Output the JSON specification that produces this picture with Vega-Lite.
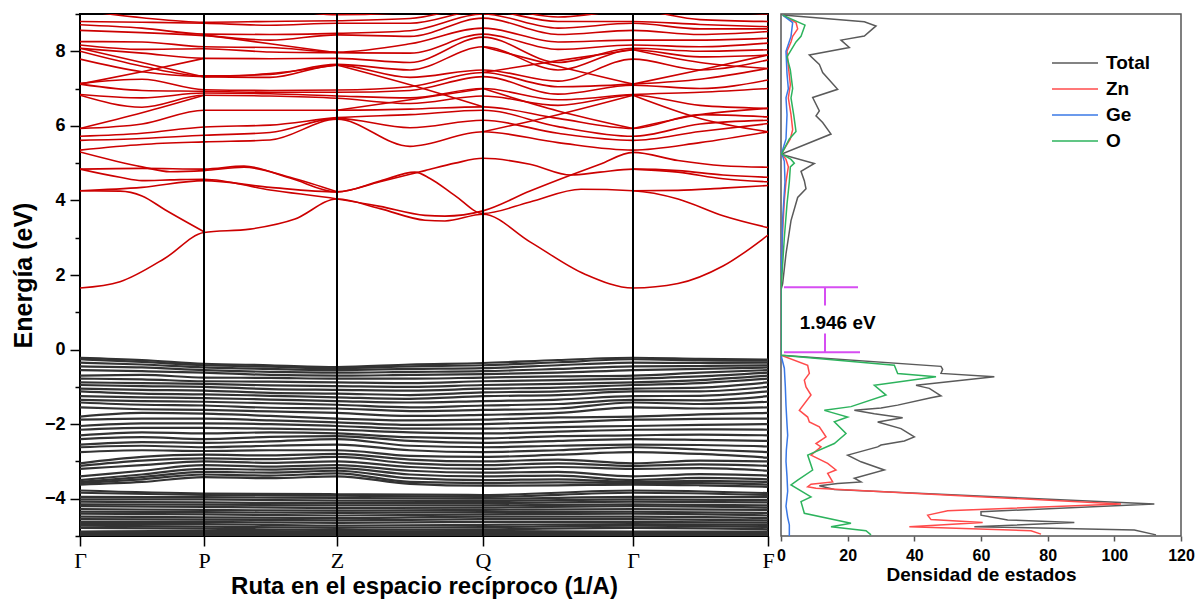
{
"$schema":"https://vega.github.io/schema/vega-lite/v6.json",
"padding":{"left":10,"top":12,"right":5,"bottom":5},
"bounds":"flush",
"spacing":13,
"background":"white",
"config":{"font":"Liberation Sans","view":{"stroke":null},
"axis":{"labelFont":"Liberation Sans","titleFont":"Liberation Sans","labelColor":"#000","titleColor":"#000","tickColor":"#000","grid":false,"domain":false,"labelFontWeight":"bold","titleFontWeight":"bold"}},
"datasets":{
"cb":[
{"b":"u1","k":0,"e":5.35},{"b":"u1","k":62,"e":5.5},{"b":"u1","k":124,"e":5.57},{"b":"u1","k":190,"e":5.62},{"b":"u1","k":257,"e":6.18},{"b":"u1","k":330,"e":5.45},{"b":"u1","k":403,"e":5.84},{"b":"u1","k":478,"e":5.55},{"b":"u1","k":553,"e":5.35},{"b":"u1","k":620,"e":5.55},{"b":"u1","k":688,"e":5.84},
{"b":"u2","k":0,"e":5.61},{"b":"u2","k":62,"e":5.66},{"b":"u2","k":124,"e":5.75},{"b":"u2","k":190,"e":5.82},{"b":"u2","k":257,"e":6.2},{"b":"u2","k":330,"e":5.95},{"b":"u2","k":403,"e":6.15},{"b":"u2","k":478,"e":5.8},{"b":"u2","k":553,"e":5.61},{"b":"u2","k":620,"e":5.85},{"b":"u2","k":688,"e":6.06},
{"b":"u3","k":0,"e":5.72},{"b":"u3","k":62,"e":5.8},{"b":"u3","k":124,"e":5.97},{"b":"u3","k":190,"e":6.02},{"b":"u3","k":257,"e":6.22},{"b":"u3","k":330,"e":6.3},{"b":"u3","k":403,"e":6.42},{"b":"u3","k":478,"e":5.98},{"b":"u3","k":553,"e":5.72},{"b":"u3","k":620,"e":6.05},{"b":"u3","k":688,"e":6.15},
{"b":"u4","k":0,"e":5.93},{"b":"u4","k":62,"e":6.05},{"b":"u4","k":124,"e":6.42},{"b":"u4","k":190,"e":6.42},{"b":"u4","k":257,"e":6.42},{"b":"u4","k":330,"e":6.45},{"b":"u4","k":403,"e":6.51},{"b":"u4","k":478,"e":6.2},{"b":"u4","k":553,"e":5.93},{"b":"u4","k":620,"e":6.3},{"b":"u4","k":688,"e":6.24},
{"b":"u5","k":0,"e":6.82},{"b":"u5","k":62,"e":6.5},{"b":"u5","k":124,"e":6.82},{"b":"u5","k":190,"e":6.8},{"b":"u5","k":257,"e":6.74},{"b":"u5","k":330,"e":6.6},{"b":"u5","k":403,"e":6.8},{"b":"u5","k":478,"e":6.55},{"b":"u5","k":553,"e":6.82},{"b":"u5","k":620,"e":6.55},{"b":"u5","k":688,"e":6.47},
{"b":"u6","k":0,"e":6.84},{"b":"u6","k":62,"e":6.75},{"b":"u6","k":124,"e":6.88},{"b":"u6","k":190,"e":6.86},{"b":"u6","k":257,"e":6.8},{"b":"u6","k":330,"e":6.75},{"b":"u6","k":403,"e":7.0},{"b":"u6","k":478,"e":6.7},{"b":"u6","k":553,"e":6.84},{"b":"u6","k":620,"e":6.9},{"b":"u6","k":688,"e":7.0},
{"b":"u7","k":0,"e":7.12},{"b":"u7","k":62,"e":6.95},{"b":"u7","k":124,"e":6.93},{"b":"u7","k":190,"e":6.9},{"b":"u7","k":257,"e":6.9},{"b":"u7","k":330,"e":6.95},{"b":"u7","k":403,"e":7.32},{"b":"u7","k":478,"e":6.85},{"b":"u7","k":553,"e":7.09},{"b":"u7","k":620,"e":7.0},{"b":"u7","k":688,"e":7.23},
{"b":"u8","k":0,"e":7.14},{"b":"u8","k":62,"e":7.25},{"b":"u8","k":124,"e":6.97},{"b":"u8","k":190,"e":6.95},{"b":"u8","k":257,"e":6.96},{"b":"u8","k":330,"e":7.05},{"b":"u8","k":403,"e":7.43},{"b":"u8","k":478,"e":7.05},{"b":"u8","k":553,"e":7.12},{"b":"u8","k":620,"e":7.25},{"b":"u8","k":688,"e":7.54},
{"b":"u9","k":0,"e":7.79},{"b":"u9","k":62,"e":7.45},{"b":"u9","k":124,"e":7.32},{"b":"u9","k":190,"e":7.3},{"b":"u9","k":257,"e":7.63},{"b":"u9","k":330,"e":7.3},{"b":"u9","k":403,"e":7.5},{"b":"u9","k":478,"e":7.2},{"b":"u9","k":553,"e":7.79},{"b":"u9","k":620,"e":7.5},{"b":"u9","k":688,"e":7.77},
{"b":"u10","k":0,"e":8.0},{"b":"u10","k":62,"e":7.6},{"b":"u10","k":124,"e":7.34},{"b":"u10","k":190,"e":7.38},{"b":"u10","k":257,"e":7.65},{"b":"u10","k":330,"e":7.5},{"b":"u10","k":403,"e":8.12},{"b":"u10","k":478,"e":7.5},{"b":"u10","k":553,"e":8.04},{"b":"u10","k":620,"e":7.85},{"b":"u10","k":688,"e":7.9},
{"b":"u11","k":0,"e":8.08},{"b":"u11","k":62,"e":7.95},{"b":"u11","k":124,"e":7.81},{"b":"u11","k":190,"e":7.8},{"b":"u11","k":257,"e":7.81},{"b":"u11","k":330,"e":7.7},{"b":"u11","k":403,"e":8.38},{"b":"u11","k":478,"e":7.7},{"b":"u11","k":553,"e":8.08},{"b":"u11","k":620,"e":8.0},{"b":"u11","k":688,"e":8.04},
{"b":"u12","k":0,"e":8.17},{"b":"u12","k":62,"e":8.05},{"b":"u12","k":124,"e":8.07},{"b":"u12","k":190,"e":7.98},{"b":"u12","k":257,"e":7.96},{"b":"u12","k":330,"e":7.95},{"b":"u12","k":403,"e":8.46},{"b":"u12","k":478,"e":8.05},{"b":"u12","k":553,"e":8.17},{"b":"u12","k":620,"e":8.12},{"b":"u12","k":688,"e":8.22},
{"b":"u13","k":0,"e":8.26},{"b":"u13","k":62,"e":8.25},{"b":"u13","k":124,"e":8.12},{"b":"u13","k":190,"e":8.1},{"b":"u13","k":257,"e":7.98},{"b":"u13","k":330,"e":8.2},{"b":"u13","k":403,"e":8.62},{"b":"u13","k":478,"e":8.25},{"b":"u13","k":553,"e":8.3},{"b":"u13","k":620,"e":8.3},{"b":"u13","k":688,"e":8.35},
{"b":"u14","k":0,"e":8.56},{"b":"u14","k":62,"e":8.5},{"b":"u14","k":124,"e":8.42},{"b":"u14","k":190,"e":8.3},{"b":"u14","k":257,"e":8.44},{"b":"u14","k":330,"e":8.4},{"b":"u14","k":403,"e":8.89},{"b":"u14","k":478,"e":8.45},{"b":"u14","k":553,"e":8.56},{"b":"u14","k":620,"e":8.45},{"b":"u14","k":688,"e":8.53},
{"b":"u15","k":0,"e":8.71},{"b":"u15","k":62,"e":8.62},{"b":"u15","k":124,"e":8.46},{"b":"u15","k":190,"e":8.45},{"b":"u15","k":257,"e":8.48},{"b":"u15","k":330,"e":8.55},{"b":"u15","k":403,"e":9.0},{"b":"u15","k":478,"e":8.62},{"b":"u15","k":553,"e":8.75},{"b":"u15","k":620,"e":8.6},{"b":"u15","k":688,"e":8.6},
{"b":"u16","k":0,"e":8.8},{"b":"u16","k":62,"e":8.78},{"b":"u16","k":124,"e":8.75},{"b":"u16","k":190,"e":8.7},{"b":"u16","k":257,"e":8.75},{"b":"u16","k":330,"e":8.75},{"b":"u16","k":403,"e":9.1},{"b":"u16","k":478,"e":8.8},{"b":"u16","k":553,"e":8.8},{"b":"u16","k":620,"e":8.72},{"b":"u16","k":688,"e":8.66},
{"b":"u17","k":0,"e":9.1},{"b":"u17","k":62,"e":8.9},{"b":"u17","k":124,"e":8.78},{"b":"u17","k":190,"e":8.8},{"b":"u17","k":257,"e":8.82},{"b":"u17","k":330,"e":8.88},{"b":"u17","k":403,"e":9.2},{"b":"u17","k":478,"e":8.92},{"b":"u17","k":553,"e":9.1},{"b":"u17","k":620,"e":8.85},{"b":"u17","k":688,"e":8.8},
{"b":"u18","k":0,"e":9.3},{"b":"u18","k":62,"e":9.2},{"b":"u18","k":124,"e":9.2},{"b":"u18","k":190,"e":9.15},{"b":"u18","k":257,"e":8.98},{"b":"u18","k":330,"e":9.05},{"b":"u18","k":403,"e":9.3},{"b":"u18","k":478,"e":9.2},{"b":"u18","k":553,"e":9.3},{"b":"u18","k":620,"e":9.1},{"b":"u18","k":688,"e":9.0},
{"b":"x1","k":0,"e":8.08},{"b":"x1","k":62,"e":7.7},{"b":"x1","k":124,"e":7.31},
{"b":"x2","k":0,"e":7.12},{"b":"x2","k":62,"e":7.45},{"b":"x2","k":124,"e":7.81},
{"b":"x3","k":0,"e":5.93},{"b":"x3","k":62,"e":6.35},{"b":"x3","k":124,"e":6.82},
{"b":"x4","k":124,"e":8.44},{"b":"x4","k":190,"e":8.2},{"b":"x4","k":257,"e":7.96},
{"b":"x5","k":124,"e":7.31},{"b":"x5","k":190,"e":7.4},{"b":"x5","k":257,"e":7.63},
{"b":"x6","k":257,"e":6.42},{"b":"x6","k":330,"e":6.7},{"b":"x6","k":403,"e":7.0},
{"b":"x7","k":257,"e":7.63},{"b":"x7","k":330,"e":7.1},{"b":"x7","k":403,"e":6.51},
{"b":"x8","k":403,"e":5.84},{"b":"x8","k":478,"e":6.3},{"b":"x8","k":553,"e":6.82},
{"b":"x9","k":403,"e":7.0},{"b":"x9","k":478,"e":6.4},{"b":"x9","k":553,"e":5.93},
{"b":"x10","k":553,"e":6.82},{"b":"x10","k":620,"e":6.2},{"b":"x10","k":688,"e":5.84},
{"b":"x11","k":553,"e":5.93},{"b":"x11","k":620,"e":6.3},{"b":"x11","k":688,"e":6.47},
{"b":"x12","k":553,"e":8.04},{"b":"x12","k":620,"e":7.7},{"b":"x12","k":688,"e":7.54},
{"b":"x13","k":553,"e":7.12},{"b":"x13","k":620,"e":7.5},{"b":"x13","k":688,"e":7.9},
{"b":"x14","k":403,"e":8.12},{"b":"x14","k":478,"e":7.6},{"b":"x14","k":553,"e":7.12},
{"b":"x15","k":403,"e":7.43},{"b":"x15","k":478,"e":7.75},{"b":"x15","k":553,"e":8.04},
{"b":"L1","k":0,"e":1.65},{"b":"L1","k":40,"e":1.82},{"b":"L1","k":85,"e":2.45},{"b":"L1","k":124,"e":3.14},{"b":"L1","k":170,"e":3.23},{"b":"L1","k":215,"e":3.5},{"b":"L1","k":257,"e":4.04},{"b":"L1","k":300,"e":3.78},{"b":"L1","k":345,"e":3.47},{"b":"L1","k":365,"e":3.45},{"b":"L1","k":403,"e":3.63},{"b":"L1","k":450,"e":2.89},{"b":"L1","k":505,"e":2.02},{"b":"L1","k":553,"e":1.65},{"b":"L1","k":598,"e":1.77},{"b":"L1","k":643,"e":2.24},{"b":"L1","k":688,"e":3.07},
{"b":"L2","k":0,"e":4.26},{"b":"L2","k":40,"e":4.25},{"b":"L2","k":62,"e":4.12},{"b":"L2","k":85,"e":3.75},{"b":"L2","k":124,"e":3.16},
{"b":"L3","k":0,"e":4.26},{"b":"L3","k":62,"e":4.35},{"b":"L3","k":124,"e":4.53},{"b":"L3","k":190,"e":4.35},{"b":"L3","k":257,"e":4.23},{"b":"L3","k":300,"e":4.52},{"b":"L3","k":335,"e":4.76},{"b":"L3","k":350,"e":4.59},{"b":"L3","k":375,"e":4.13},{"b":"L3","k":403,"e":3.65},{"b":"L3","k":450,"e":3.96},{"b":"L3","k":501,"e":4.3},{"b":"L3","k":553,"e":4.26},{"b":"L3","k":598,"e":4.04},{"b":"L3","k":643,"e":3.59},{"b":"L3","k":688,"e":3.27},
{"b":"L4","k":0,"e":4.84},{"b":"L4","k":40,"e":4.62},{"b":"L4","k":62,"e":4.53},{"b":"L4","k":90,"e":4.55},{"b":"L4","k":124,"e":4.57},{"b":"L4","k":190,"e":4.28},{"b":"L4","k":257,"e":4.04},{"b":"L4","k":300,"e":3.84},{"b":"L4","k":345,"e":3.6},{"b":"L4","k":365,"e":3.58},{"b":"L4","k":403,"e":3.72},{"b":"L4","k":450,"e":4.25},{"b":"L4","k":491,"e":4.68},{"b":"L4","k":520,"e":4.97},{"b":"L4","k":553,"e":5.29},{"b":"L4","k":598,"e":5.07},{"b":"L4","k":643,"e":4.93},{"b":"L4","k":688,"e":4.89},
{"b":"L5","k":0,"e":4.84},{"b":"L5","k":62,"e":4.86},{"b":"L5","k":124,"e":4.84},{"b":"L5","k":164,"e":4.92},{"b":"L5","k":210,"e":4.6},{"b":"L5","k":257,"e":4.23},{"b":"L5","k":300,"e":4.5},{"b":"L5","k":345,"e":4.8},{"b":"L5","k":375,"e":5.0},{"b":"L5","k":403,"e":5.13},{"b":"L5","k":450,"e":4.97},{"b":"L5","k":491,"e":4.68},{"b":"L5","k":520,"e":4.76},{"b":"L5","k":553,"e":4.84},{"b":"L5","k":598,"e":4.8},{"b":"L5","k":643,"e":4.68},{"b":"L5","k":688,"e":4.62},
{"b":"L6","k":0,"e":5.3},{"b":"L6","k":62,"e":4.9},{"b":"L6","k":90,"e":4.77},{"b":"L6","k":124,"e":4.8},{"b":"L6","k":164,"e":4.89},{"b":"L6","k":210,"e":4.62},{"b":"L6","k":257,"e":4.23},
{"b":"L7","k":553,"e":4.26},{"b":"L7","k":598,"e":4.27},{"b":"L7","k":643,"e":4.33},{"b":"L7","k":688,"e":4.4},
{"b":"L8","k":553,"e":4.84},{"b":"L8","k":598,"e":4.76},{"b":"L8","k":643,"e":4.58},{"b":"L8","k":688,"e":4.5}
],
"vb":[
{"b":"v1","k":0,"e":-0.22},{"b":"v1","k":62,"e":-0.28},{"b":"v1","k":124,"e":-0.38},{"b":"v1","k":190,"e":-0.42},{"b":"v1","k":257,"e":-0.47},{"b":"v1","k":330,"e":-0.4},{"b":"v1","k":403,"e":-0.36},{"b":"v1","k":478,"e":-0.28},{"b":"v1","k":553,"e":-0.22},{"b":"v1","k":620,"e":-0.25},{"b":"v1","k":688,"e":-0.27},
{"b":"v2","k":0,"e":-0.26},{"b":"v2","k":62,"e":-0.33},{"b":"v2","k":124,"e":-0.42},{"b":"v2","k":190,"e":-0.46},{"b":"v2","k":257,"e":-0.5},{"b":"v2","k":330,"e":-0.45},{"b":"v2","k":403,"e":-0.42},{"b":"v2","k":478,"e":-0.34},{"b":"v2","k":553,"e":-0.26},{"b":"v2","k":620,"e":-0.29},{"b":"v2","k":688,"e":-0.3},
{"b":"v3","k":0,"e":-0.35},{"b":"v3","k":62,"e":-0.4},{"b":"v3","k":124,"e":-0.48},{"b":"v3","k":190,"e":-0.52},{"b":"v3","k":257,"e":-0.55},{"b":"v3","k":330,"e":-0.52},{"b":"v3","k":403,"e":-0.5},{"b":"v3","k":478,"e":-0.42},{"b":"v3","k":553,"e":-0.35},{"b":"v3","k":620,"e":-0.36},{"b":"v3","k":688,"e":-0.35},
{"b":"v4","k":0,"e":-0.45},{"b":"v4","k":62,"e":-0.48},{"b":"v4","k":124,"e":-0.55},{"b":"v4","k":190,"e":-0.6},{"b":"v4","k":257,"e":-0.62},{"b":"v4","k":330,"e":-0.6},{"b":"v4","k":403,"e":-0.58},{"b":"v4","k":478,"e":-0.52},{"b":"v4","k":553,"e":-0.45},{"b":"v4","k":620,"e":-0.44},{"b":"v4","k":688,"e":-0.42},
{"b":"v5","k":0,"e":-0.55},{"b":"v5","k":62,"e":-0.58},{"b":"v5","k":124,"e":-0.62},{"b":"v5","k":190,"e":-0.68},{"b":"v5","k":257,"e":-0.7},{"b":"v5","k":330,"e":-0.68},{"b":"v5","k":403,"e":-0.66},{"b":"v5","k":478,"e":-0.62},{"b":"v5","k":553,"e":-0.55},{"b":"v5","k":620,"e":-0.52},{"b":"v5","k":688,"e":-0.48},
{"b":"v6","k":0,"e":-0.7},{"b":"v6","k":62,"e":-0.68},{"b":"v6","k":124,"e":-0.75},{"b":"v6","k":190,"e":-0.76},{"b":"v6","k":257,"e":-0.78},{"b":"v6","k":330,"e":-0.78},{"b":"v6","k":403,"e":-0.75},{"b":"v6","k":478,"e":-0.72},{"b":"v6","k":553,"e":-0.7},{"b":"v6","k":620,"e":-0.62},{"b":"v6","k":688,"e":-0.55},
{"b":"v7","k":0,"e":-0.78},{"b":"v7","k":62,"e":-0.8},{"b":"v7","k":124,"e":-0.85},{"b":"v7","k":190,"e":-0.86},{"b":"v7","k":257,"e":-0.88},{"b":"v7","k":330,"e":-0.9},{"b":"v7","k":403,"e":-0.85},{"b":"v7","k":478,"e":-0.82},{"b":"v7","k":553,"e":-0.78},{"b":"v7","k":620,"e":-0.72},{"b":"v7","k":688,"e":-0.62},
{"b":"v8","k":0,"e":-0.88},{"b":"v8","k":62,"e":-0.9},{"b":"v8","k":124,"e":-0.92},{"b":"v8","k":190,"e":-0.96},{"b":"v8","k":257,"e":-0.98},{"b":"v8","k":330,"e":-1.0},{"b":"v8","k":403,"e":-0.95},{"b":"v8","k":478,"e":-0.92},{"b":"v8","k":553,"e":-0.88},{"b":"v8","k":620,"e":-0.82},{"b":"v8","k":688,"e":-0.7},
{"b":"v9","k":0,"e":-0.95},{"b":"v9","k":62,"e":-0.98},{"b":"v9","k":124,"e":-1.0},{"b":"v9","k":190,"e":-1.06},{"b":"v9","k":257,"e":-1.08},{"b":"v9","k":330,"e":-1.1},{"b":"v9","k":403,"e":-1.05},{"b":"v9","k":478,"e":-1.02},{"b":"v9","k":553,"e":-0.95},{"b":"v9","k":620,"e":-0.9},{"b":"v9","k":688,"e":-0.78},
{"b":"v10","k":0,"e":-1.05},{"b":"v10","k":62,"e":-1.08},{"b":"v10","k":124,"e":-1.1},{"b":"v10","k":190,"e":-1.16},{"b":"v10","k":257,"e":-1.18},{"b":"v10","k":330,"e":-1.22},{"b":"v10","k":403,"e":-1.15},{"b":"v10","k":478,"e":-1.12},{"b":"v10","k":553,"e":-1.05},{"b":"v10","k":620,"e":-1.02},{"b":"v10","k":688,"e":-0.88},
{"b":"v11","k":0,"e":-1.12},{"b":"v11","k":62,"e":-1.18},{"b":"v11","k":124,"e":-1.2},{"b":"v11","k":190,"e":-1.24},{"b":"v11","k":257,"e":-1.28},{"b":"v11","k":330,"e":-1.32},{"b":"v11","k":403,"e":-1.25},{"b":"v11","k":478,"e":-1.22},{"b":"v11","k":553,"e":-1.12},{"b":"v11","k":620,"e":-1.12},{"b":"v11","k":688,"e":-1.0},
{"b":"v12","k":0,"e":-1.25},{"b":"v12","k":62,"e":-1.28},{"b":"v12","k":124,"e":-1.3},{"b":"v12","k":190,"e":-1.34},{"b":"v12","k":257,"e":-1.38},{"b":"v12","k":330,"e":-1.42},{"b":"v12","k":403,"e":-1.38},{"b":"v12","k":478,"e":-1.34},{"b":"v12","k":553,"e":-1.25},{"b":"v12","k":620,"e":-1.24},{"b":"v12","k":688,"e":-1.12},
{"b":"v13","k":0,"e":-1.35},{"b":"v13","k":62,"e":-1.38},{"b":"v13","k":124,"e":-1.4},{"b":"v13","k":190,"e":-1.44},{"b":"v13","k":257,"e":-1.48},{"b":"v13","k":330,"e":-1.55},{"b":"v13","k":403,"e":-1.5},{"b":"v13","k":478,"e":-1.46},{"b":"v13","k":553,"e":-1.35},{"b":"v13","k":620,"e":-1.36},{"b":"v13","k":688,"e":-1.25},
{"b":"v14","k":0,"e":-1.42},{"b":"v14","k":62,"e":-1.48},{"b":"v14","k":124,"e":-1.5},{"b":"v14","k":190,"e":-1.56},{"b":"v14","k":257,"e":-1.58},{"b":"v14","k":330,"e":-1.65},{"b":"v14","k":403,"e":-1.62},{"b":"v14","k":478,"e":-1.58},{"b":"v14","k":553,"e":-1.42},{"b":"v14","k":620,"e":-1.46},{"b":"v14","k":688,"e":-1.4},
{"b":"v15","k":0,"e":-1.55},{"b":"v15","k":62,"e":-1.6},{"b":"v15","k":124,"e":-1.62},{"b":"v15","k":190,"e":-1.66},{"b":"v15","k":257,"e":-1.7},{"b":"v15","k":330,"e":-1.78},{"b":"v15","k":403,"e":-1.75},{"b":"v15","k":478,"e":-1.7},{"b":"v15","k":553,"e":-1.55},{"b":"v15","k":620,"e":-1.58},{"b":"v15","k":688,"e":-1.55},
{"b":"v16","k":0,"e":-1.8},{"b":"v16","k":62,"e":-1.7},{"b":"v16","k":124,"e":-1.72},{"b":"v16","k":190,"e":-1.78},{"b":"v16","k":257,"e":-1.85},{"b":"v16","k":330,"e":-1.9},{"b":"v16","k":403,"e":-1.88},{"b":"v16","k":478,"e":-1.82},{"b":"v16","k":553,"e":-1.8},{"b":"v16","k":620,"e":-1.74},{"b":"v16","k":688,"e":-1.7},
{"b":"v17","k":0,"e":-1.88},{"b":"v17","k":62,"e":-1.85},{"b":"v17","k":124,"e":-1.85},{"b":"v17","k":190,"e":-1.9},{"b":"v17","k":257,"e":-1.95},{"b":"v17","k":330,"e":-2.02},{"b":"v17","k":403,"e":-2.0},{"b":"v17","k":478,"e":-1.95},{"b":"v17","k":553,"e":-1.88},{"b":"v17","k":620,"e":-1.86},{"b":"v17","k":688,"e":-1.85},
{"b":"v18","k":0,"e":-2.05},{"b":"v18","k":62,"e":-1.98},{"b":"v18","k":124,"e":-1.98},{"b":"v18","k":190,"e":-2.0},{"b":"v18","k":257,"e":-2.05},{"b":"v18","k":330,"e":-2.12},{"b":"v18","k":403,"e":-2.12},{"b":"v18","k":478,"e":-2.08},{"b":"v18","k":553,"e":-2.05},{"b":"v18","k":620,"e":-2.02},{"b":"v18","k":688,"e":-2.0},
{"b":"v19","k":0,"e":-2.15},{"b":"v19","k":62,"e":-2.1},{"b":"v19","k":124,"e":-2.1},{"b":"v19","k":190,"e":-2.12},{"b":"v19","k":257,"e":-2.15},{"b":"v19","k":330,"e":-2.22},{"b":"v19","k":403,"e":-2.25},{"b":"v19","k":478,"e":-2.2},{"b":"v19","k":553,"e":-2.15},{"b":"v19","k":620,"e":-2.14},{"b":"v19","k":688,"e":-2.15},
{"b":"v20","k":0,"e":-2.3},{"b":"v20","k":62,"e":-2.22},{"b":"v20","k":124,"e":-2.25},{"b":"v20","k":190,"e":-2.22},{"b":"v20","k":257,"e":-2.25},{"b":"v20","k":330,"e":-2.35},{"b":"v20","k":403,"e":-2.38},{"b":"v20","k":478,"e":-2.32},{"b":"v20","k":553,"e":-2.3},{"b":"v20","k":620,"e":-2.28},{"b":"v20","k":688,"e":-2.3},
{"b":"v21","k":0,"e":-2.4},{"b":"v21","k":62,"e":-2.35},{"b":"v21","k":124,"e":-2.4},{"b":"v21","k":190,"e":-2.34},{"b":"v21","k":257,"e":-2.32},{"b":"v21","k":330,"e":-2.45},{"b":"v21","k":403,"e":-2.5},{"b":"v21","k":478,"e":-2.45},{"b":"v21","k":553,"e":-2.4},{"b":"v21","k":620,"e":-2.42},{"b":"v21","k":688,"e":-2.45},
{"b":"v22","k":0,"e":-2.55},{"b":"v22","k":62,"e":-2.48},{"b":"v22","k":124,"e":-2.5},{"b":"v22","k":190,"e":-2.46},{"b":"v22","k":257,"e":-2.4},{"b":"v22","k":330,"e":-2.58},{"b":"v22","k":403,"e":-2.62},{"b":"v22","k":478,"e":-2.58},{"b":"v22","k":553,"e":-2.55},{"b":"v22","k":620,"e":-2.56},{"b":"v22","k":688,"e":-2.6},
{"b":"v23","k":0,"e":-2.62},{"b":"v23","k":62,"e":-2.58},{"b":"v23","k":124,"e":-2.62},{"b":"v23","k":190,"e":-2.58},{"b":"v23","k":257,"e":-2.55},{"b":"v23","k":330,"e":-2.7},{"b":"v23","k":403,"e":-2.75},{"b":"v23","k":478,"e":-2.7},{"b":"v23","k":553,"e":-2.62},{"b":"v23","k":620,"e":-2.68},{"b":"v23","k":688,"e":-2.75},
{"b":"v24","k":0,"e":-2.75},{"b":"v24","k":62,"e":-2.7},{"b":"v24","k":124,"e":-2.72},{"b":"v24","k":190,"e":-2.7},{"b":"v24","k":257,"e":-2.7},{"b":"v24","k":330,"e":-2.85},{"b":"v24","k":403,"e":-2.88},{"b":"v24","k":478,"e":-2.82},{"b":"v24","k":553,"e":-2.75},{"b":"v24","k":620,"e":-2.8},{"b":"v24","k":688,"e":-2.9},
{"b":"v25","k":0,"e":-3.05},{"b":"v25","k":62,"e":-2.88},{"b":"v25","k":124,"e":-2.82},{"b":"v25","k":190,"e":-2.84},{"b":"v25","k":257,"e":-2.8},{"b":"v25","k":330,"e":-2.95},{"b":"v25","k":403,"e":-3.0},{"b":"v25","k":478,"e":-2.95},{"b":"v25","k":553,"e":-3.05},{"b":"v25","k":620,"e":-2.98},{"b":"v25","k":688,"e":-3.0},
{"b":"v26","k":0,"e":-3.12},{"b":"v26","k":62,"e":-2.98},{"b":"v26","k":124,"e":-2.92},{"b":"v26","k":190,"e":-2.94},{"b":"v26","k":257,"e":-2.88},{"b":"v26","k":330,"e":-3.05},{"b":"v26","k":403,"e":-3.1},{"b":"v26","k":478,"e":-3.05},{"b":"v26","k":553,"e":-3.12},{"b":"v26","k":620,"e":-3.08},{"b":"v26","k":688,"e":-3.12},
{"b":"v27","k":0,"e":-3.2},{"b":"v27","k":62,"e":-3.1},{"b":"v27","k":124,"e":-3.0},{"b":"v27","k":190,"e":-3.04},{"b":"v27","k":257,"e":-3.0},{"b":"v27","k":330,"e":-3.15},{"b":"v27","k":403,"e":-3.2},{"b":"v27","k":478,"e":-3.15},{"b":"v27","k":553,"e":-3.2},{"b":"v27","k":620,"e":-3.18},{"b":"v27","k":688,"e":-3.25},
{"b":"v28","k":0,"e":-3.4},{"b":"v28","k":62,"e":-3.25},{"b":"v28","k":124,"e":-3.1},{"b":"v28","k":190,"e":-3.14},{"b":"v28","k":257,"e":-3.1},{"b":"v28","k":330,"e":-3.25},{"b":"v28","k":403,"e":-3.3},{"b":"v28","k":478,"e":-3.28},{"b":"v28","k":553,"e":-3.4},{"b":"v28","k":620,"e":-3.34},{"b":"v28","k":688,"e":-3.38},
{"b":"v29","k":0,"e":-3.5},{"b":"v29","k":62,"e":-3.35},{"b":"v29","k":124,"e":-3.2},{"b":"v29","k":190,"e":-3.22},{"b":"v29","k":257,"e":-3.18},{"b":"v29","k":330,"e":-3.35},{"b":"v29","k":403,"e":-3.4},{"b":"v29","k":478,"e":-3.38},{"b":"v29","k":553,"e":-3.5},{"b":"v29","k":620,"e":-3.44},{"b":"v29","k":688,"e":-3.48},
{"b":"v30","k":0,"e":-3.55},{"b":"v30","k":62,"e":-3.42},{"b":"v30","k":124,"e":-3.28},{"b":"v30","k":190,"e":-3.3},{"b":"v30","k":257,"e":-3.25},{"b":"v30","k":330,"e":-3.45},{"b":"v30","k":403,"e":-3.5},{"b":"v30","k":478,"e":-3.48},{"b":"v30","k":553,"e":-3.55},{"b":"v30","k":620,"e":-3.52},{"b":"v30","k":688,"e":-3.55},
{"b":"v31","k":0,"e":-3.58},{"b":"v31","k":62,"e":-3.48},{"b":"v31","k":124,"e":-3.35},{"b":"v31","k":190,"e":-3.38},{"b":"v31","k":257,"e":-3.32},{"b":"v31","k":330,"e":-3.55},{"b":"v31","k":403,"e":-3.58},{"b":"v31","k":478,"e":-3.56},{"b":"v31","k":553,"e":-3.58},{"b":"v31","k":620,"e":-3.58},{"b":"v31","k":688,"e":-3.62},
{"b":"v32","k":0,"e":-3.62},{"b":"v32","k":62,"e":-3.55},{"b":"v32","k":124,"e":-3.42},{"b":"v32","k":190,"e":-3.45},{"b":"v32","k":257,"e":-3.4},{"b":"v32","k":330,"e":-3.6},{"b":"v32","k":403,"e":-3.65},{"b":"v32","k":478,"e":-3.64},{"b":"v32","k":553,"e":-3.62},{"b":"v32","k":620,"e":-3.64},{"b":"v32","k":688,"e":-3.68},
{"b":"w1","k":0,"e":-3.78},{"b":"w1","k":124,"e":-3.86},{"b":"w1","k":257,"e":-3.88},{"b":"w1","k":403,"e":-3.9},{"b":"w1","k":553,"e":-3.78},{"b":"w1","k":688,"e":-3.85},
{"b":"w2","k":0,"e":-3.84},{"b":"w2","k":124,"e":-3.9},{"b":"w2","k":257,"e":-3.92},{"b":"w2","k":403,"e":-3.95},{"b":"w2","k":553,"e":-3.84},{"b":"w2","k":688,"e":-3.9},
{"b":"w3","k":0,"e":-3.95},{"b":"w3","k":124,"e":-3.96},{"b":"w3","k":257,"e":-3.98},{"b":"w3","k":403,"e":-4.0},{"b":"w3","k":553,"e":-3.95},{"b":"w3","k":688,"e":-3.96},
{"b":"w4","k":0,"e":-4.02},{"b":"w4","k":124,"e":-4.02},{"b":"w4","k":257,"e":-4.05},{"b":"w4","k":403,"e":-4.06},{"b":"w4","k":553,"e":-4.02},{"b":"w4","k":688,"e":-4.04},
{"b":"w5","k":0,"e":-4.08},{"b":"w5","k":124,"e":-4.1},{"b":"w5","k":257,"e":-4.12},{"b":"w5","k":403,"e":-4.12},{"b":"w5","k":553,"e":-4.08},{"b":"w5","k":688,"e":-4.1},
{"b":"w6","k":0,"e":-4.15},{"b":"w6","k":124,"e":-4.16},{"b":"w6","k":257,"e":-4.18},{"b":"w6","k":403,"e":-4.18},{"b":"w6","k":553,"e":-4.15},{"b":"w6","k":688,"e":-4.18},
{"b":"w7","k":0,"e":-4.2},{"b":"w7","k":124,"e":-4.22},{"b":"w7","k":257,"e":-4.25},{"b":"w7","k":403,"e":-4.24},{"b":"w7","k":553,"e":-4.2},{"b":"w7","k":688,"e":-4.24},
{"b":"w8","k":0,"e":-4.28},{"b":"w8","k":124,"e":-4.3},{"b":"w8","k":257,"e":-4.32},{"b":"w8","k":403,"e":-4.3},{"b":"w8","k":553,"e":-4.28},{"b":"w8","k":688,"e":-4.3},
{"b":"w9","k":0,"e":-4.35},{"b":"w9","k":124,"e":-4.36},{"b":"w9","k":257,"e":-4.38},{"b":"w9","k":403,"e":-4.36},{"b":"w9","k":553,"e":-4.35},{"b":"w9","k":688,"e":-4.38},
{"b":"w10","k":0,"e":-4.4},{"b":"w10","k":124,"e":-4.42},{"b":"w10","k":257,"e":-4.45},{"b":"w10","k":403,"e":-4.42},{"b":"w10","k":553,"e":-4.4},{"b":"w10","k":688,"e":-4.45},
{"b":"w11","k":0,"e":-4.48},{"b":"w11","k":124,"e":-4.5},{"b":"w11","k":257,"e":-4.52},{"b":"w11","k":403,"e":-4.48},{"b":"w11","k":553,"e":-4.48},{"b":"w11","k":688,"e":-4.52},
{"b":"w12","k":0,"e":-4.55},{"b":"w12","k":124,"e":-4.56},{"b":"w12","k":257,"e":-4.58},{"b":"w12","k":403,"e":-4.55},{"b":"w12","k":553,"e":-4.55},{"b":"w12","k":688,"e":-4.58},
{"b":"w13","k":0,"e":-4.62},{"b":"w13","k":124,"e":-4.62},{"b":"w13","k":257,"e":-4.65},{"b":"w13","k":403,"e":-4.62},{"b":"w13","k":553,"e":-4.62},{"b":"w13","k":688,"e":-4.64},
{"b":"w14","k":0,"e":-4.68},{"b":"w14","k":124,"e":-4.68},{"b":"w14","k":257,"e":-4.72},{"b":"w14","k":403,"e":-4.7},{"b":"w14","k":553,"e":-4.68},{"b":"w14","k":688,"e":-4.7},
{"b":"w15","k":0,"e":-4.72},{"b":"w15","k":124,"e":-4.75},{"b":"w15","k":257,"e":-4.78},{"b":"w15","k":403,"e":-4.76},{"b":"w15","k":553,"e":-4.72},{"b":"w15","k":688,"e":-4.76},
{"b":"w16","k":0,"e":-4.78},{"b":"w16","k":124,"e":-4.8},{"b":"w16","k":257,"e":-4.84},{"b":"w16","k":403,"e":-4.82},{"b":"w16","k":553,"e":-4.78},{"b":"w16","k":688,"e":-4.82},
{"b":"w17","k":0,"e":-4.88},{"b":"w17","k":124,"e":-4.86},{"b":"w17","k":257,"e":-4.88},{"b":"w17","k":403,"e":-4.87},{"b":"w17","k":553,"e":-4.88},{"b":"w17","k":688,"e":-4.88},
{"b":"w18","k":0,"e":-4.92},{"b":"w18","k":124,"e":-4.92},{"b":"w18","k":257,"e":-4.92},{"b":"w18","k":403,"e":-4.92},{"b":"w18","k":553,"e":-4.92},{"b":"w18","k":688,"e":-4.92},
{"b":"w19","k":0,"e":-4.96},{"b":"w19","k":124,"e":-4.96},{"b":"w19","k":257,"e":-4.96},{"b":"w19","k":403,"e":-4.96},{"b":"w19","k":553,"e":-4.96},{"b":"w19","k":688,"e":-4.96},
{"b":"w20","k":0,"e":-4.99},{"b":"w20","k":124,"e":-4.99},{"b":"w20","k":257,"e":-4.99},{"b":"w20","k":403,"e":-4.99},{"b":"w20","k":553,"e":-4.99},{"b":"w20","k":688,"e":-4.99}
],
"hs":[{"k":124},{"k":257},{"k":403},{"k":553}],
"dos":[
{"s":"Total","e":8.97,"d":0.5},{"s":"Total","e":8.79,"d":25},{"s":"Total","e":8.68,"d":28.5},{"s":"Total","e":8.41,"d":25},{"s":"Total","e":8.3,"d":18},{"s":"Total","e":8.1,"d":20.5},{"s":"Total","e":7.9,"d":8.5},{"s":"Total","e":7.65,"d":11.5},{"s":"Total","e":7.43,"d":12.5},{"s":"Total","e":6.98,"d":17},{"s":"Total","e":6.76,"d":9.5},{"s":"Total","e":6.4,"d":11.5},{"s":"Total","e":6.27,"d":10.5},{"s":"Total","e":6.09,"d":12.5},{"s":"Total","e":5.78,"d":15},{"s":"Total","e":5.24,"d":0},{"s":"Total","e":4.99,"d":10},{"s":"Total","e":4.78,"d":6},{"s":"Total","e":4.53,"d":7},{"s":"Total","e":4.31,"d":7.5},{"s":"Total","e":4.08,"d":5},{"s":"Total","e":3.46,"d":3},{"s":"Total","e":2.57,"d":1.5},{"s":"Total","e":1.77,"d":0.5},{"s":"Total","e":1.6,"d":0},{"s":"Total","e":-0.15,"d":0},{"s":"Total","e":-0.45,"d":48},{"s":"Total","e":-0.53,"d":48.5},{"s":"Total","e":-0.64,"d":48},{"s":"Total","e":-0.73,"d":64},{"s":"Total","e":-0.96,"d":40.5},{"s":"Total","e":-1.04,"d":44.5},{"s":"Total","e":-1.24,"d":48},{"s":"Total","e":-1.29,"d":45},{"s":"Total","e":-1.49,"d":35},{"s":"Total","e":-1.57,"d":30},{"s":"Total","e":-1.63,"d":22},{"s":"Total","e":-1.72,"d":28},{"s":"Total","e":-1.83,"d":36.5},{"s":"Total","e":-1.94,"d":29},{"s":"Total","e":-2.12,"d":36},{"s":"Total","e":-2.34,"d":40},{"s":"Total","e":-2.45,"d":37},{"s":"Total","e":-2.56,"d":30},{"s":"Total","e":-2.61,"d":29},{"s":"Total","e":-2.83,"d":20},{"s":"Total","e":-3.01,"d":24},{"s":"Total","e":-3.23,"d":31},{"s":"Total","e":-3.45,"d":22},{"s":"Total","e":-3.55,"d":24},{"s":"Total","e":-3.59,"d":17},{"s":"Total","e":-3.65,"d":11.5},{"s":"Total","e":-3.75,"d":16},{"s":"Total","e":-4.14,"d":112},{"s":"Total","e":-4.35,"d":60},{"s":"Total","e":-4.44,"d":60},{"s":"Total","e":-4.57,"d":68},{"s":"Total","e":-4.64,"d":88},{"s":"Total","e":-4.75,"d":58},{"s":"Total","e":-4.84,"d":106},{"s":"Total","e":-4.97,"d":112.5},
{"s":"Zn","e":8.97,"d":0.5},{"s":"Zn","e":8.77,"d":4.5},{"s":"Zn","e":8.6,"d":5},{"s":"Zn","e":8.4,"d":3.5},{"s":"Zn","e":8.25,"d":3},{"s":"Zn","e":8.0,"d":1.8},{"s":"Zn","e":7.6,"d":2.2},{"s":"Zn","e":7.1,"d":2.8},{"s":"Zn","e":6.75,"d":2.2},{"s":"Zn","e":6.3,"d":3},{"s":"Zn","e":5.9,"d":3.5},{"s":"Zn","e":5.65,"d":2.8},{"s":"Zn","e":5.27,"d":0.2},{"s":"Zn","e":5.1,"d":1.5},{"s":"Zn","e":4.9,"d":2.2},{"s":"Zn","e":4.5,"d":1.5},{"s":"Zn","e":4.0,"d":1},{"s":"Zn","e":3.2,"d":0.5},{"s":"Zn","e":1.6,"d":0},{"s":"Zn","e":-0.15,"d":0},{"s":"Zn","e":-0.42,"d":8},{"s":"Zn","e":-0.64,"d":8.5},{"s":"Zn","e":-0.82,"d":7},{"s":"Zn","e":-1.0,"d":7.5},{"s":"Zn","e":-1.22,"d":9},{"s":"Zn","e":-1.63,"d":5.5},{"s":"Zn","e":-1.81,"d":8},{"s":"Zn","e":-1.94,"d":8.5},{"s":"Zn","e":-2.07,"d":11.5},{"s":"Zn","e":-2.34,"d":13.5},{"s":"Zn","e":-2.52,"d":10.5},{"s":"Zn","e":-2.61,"d":12},{"s":"Zn","e":-2.83,"d":9},{"s":"Zn","e":-3.05,"d":14},{"s":"Zn","e":-3.23,"d":16.5},{"s":"Zn","e":-3.32,"d":14},{"s":"Zn","e":-3.55,"d":15.5},{"s":"Zn","e":-3.61,"d":9},{"s":"Zn","e":-3.68,"d":8},{"s":"Zn","e":-3.72,"d":10.5},{"s":"Zn","e":-4.14,"d":102},{"s":"Zn","e":-4.32,"d":50},{"s":"Zn","e":-4.44,"d":44},{"s":"Zn","e":-4.56,"d":45},{"s":"Zn","e":-4.64,"d":60.5},{"s":"Zn","e":-4.75,"d":38.5},{"s":"Zn","e":-4.86,"d":75},{"s":"Zn","e":-4.95,"d":78},
{"s":"Ge","e":8.97,"d":0.5},{"s":"Ge","e":8.77,"d":3.5},{"s":"Ge","e":8.4,"d":3},{"s":"Ge","e":8.0,"d":1.5},{"s":"Ge","e":7.4,"d":1.8},{"s":"Ge","e":7.0,"d":2.2},{"s":"Ge","e":6.75,"d":1.5},{"s":"Ge","e":6.3,"d":1.8},{"s":"Ge","e":5.65,"d":1.5},{"s":"Ge","e":5.27,"d":0.2},{"s":"Ge","e":5.05,"d":1},{"s":"Ge","e":4.5,"d":1.2},{"s":"Ge","e":3.5,"d":0.5},{"s":"Ge","e":1.6,"d":0},{"s":"Ge","e":-0.15,"d":0},{"s":"Ge","e":-0.5,"d":1},{"s":"Ge","e":-1.0,"d":1.3},{"s":"Ge","e":-1.5,"d":1.5},{"s":"Ge","e":-2.0,"d":1.8},{"s":"Ge","e":-2.3,"d":2},{"s":"Ge","e":-2.7,"d":1.6},{"s":"Ge","e":-3.0,"d":1.5},{"s":"Ge","e":-3.4,"d":1.8},{"s":"Ge","e":-3.8,"d":2},{"s":"Ge","e":-4.2,"d":1.5},{"s":"Ge","e":-4.5,"d":2},{"s":"Ge","e":-4.7,"d":2.5},{"s":"Ge","e":-5.0,"d":2.5},
{"s":"O","e":8.97,"d":0.5},{"s":"O","e":8.7,"d":7.2},{"s":"O","e":8.4,"d":6},{"s":"O","e":8.25,"d":4.5},{"s":"O","e":7.85,"d":1.8},{"s":"O","e":7.5,"d":2.8},{"s":"O","e":7.0,"d":3.5},{"s":"O","e":6.75,"d":3},{"s":"O","e":6.3,"d":3.8},{"s":"O","e":5.85,"d":4.5},{"s":"O","e":5.65,"d":2.5},{"s":"O","e":5.25,"d":0.2},{"s":"O","e":5.1,"d":3},{"s":"O","e":5.0,"d":4},{"s":"O","e":4.9,"d":2.8},{"s":"O","e":4.5,"d":2.5},{"s":"O","e":3.9,"d":1.8},{"s":"O","e":3.0,"d":1},{"s":"O","e":1.6,"d":0},{"s":"O","e":-0.15,"d":0},{"s":"O","e":-0.42,"d":34},{"s":"O","e":-0.64,"d":35},{"s":"O","e":-0.73,"d":46.5},{"s":"O","e":-0.96,"d":28},{"s":"O","e":-1.22,"d":31.5},{"s":"O","e":-1.53,"d":21},{"s":"O","e":-1.63,"d":13},{"s":"O","e":-1.81,"d":20},{"s":"O","e":-1.94,"d":16},{"s":"O","e":-2.25,"d":19.5},{"s":"O","e":-2.52,"d":16},{"s":"O","e":-2.83,"d":8},{"s":"O","e":-3.23,"d":9.5},{"s":"O","e":-3.5,"d":5},{"s":"O","e":-3.63,"d":3},{"s":"O","e":-3.95,"d":9},{"s":"O","e":-4.08,"d":6},{"s":"O","e":-4.39,"d":7},{"s":"O","e":-4.66,"d":21},{"s":"O","e":-4.75,"d":15},{"s":"O","e":-4.86,"d":25.5},{"s":"O","e":-4.97,"d":27}
],
"gap":[{"x":0.9,"x2":23.1,"y":1.67,"y2":1.67},{"x":0.9,"x2":23.7,"y":-0.07,"y2":-0.07},{"x":13.2,"x2":13.2,"y":1.67,"y2":1.18},{"x":13.2,"x2":13.2,"y":0.43,"y2":-0.07}],
"gaptext":[{"x":17,"y":0.71,"t":"1.946 eV"}]
},
"hconcat":[
{"width":688,"height":522,
"view":{"stroke":"#000","strokeWidth":2},
"resolve":{"axis":{"y":"independent"}},
"layer":[
{"data":{"name":"vb"},"mark":{"type":"line","color":"#333333","strokeWidth":2.2,"interpolate":"monotone","clip":true},
"encoding":{
"x":{"field":"k","type":"quantitative","scale":{"domain":[0,688],"nice":false,"zero":false},
"axis":{"values":[0,124,257,403,553,688],"labelExpr":"datum.value==0||datum.value==553?'Γ':datum.value==124?'P':datum.value==257?'Z':datum.value==403?'Q':'F'","labelFont":"Liberation Serif","labelFontWeight":"normal","labelFontSize":22,"labelFlush":false,"labelOverlap":false,"labelBound":false,"tickSize":10,"tickWidth":1.5,"labelPadding":4,"title":"Ruta en el espacio recíproco (1/A)","titleFontSize":24,"titlePadding":3}},
"y":{"field":"e","type":"quantitative","scale":{"domain":[-5,9],"nice":false,"zero":false},
"axis":{"orient":"left","values":[-4,-2,0,2,4,6,8],"labelFontSize":18,"labelFlush":false,"labelOverlap":false,"tickSize":10,"tickWidth":1.5,"labelPadding":5,"title":"Energía (eV)","titleFontSize":25,"titlePadding":8}},
"detail":{"field":"b","type":"nominal"}}},
{"data":{"name":"cb"},"mark":{"type":"line","color":"#cc0000","strokeWidth":1.6,"interpolate":"monotone","clip":true},
"encoding":{"x":{"field":"k","type":"quantitative"},
"y":{"field":"e","type":"quantitative","axis":{"orient":"left","values":[-5,-3,-1,1,3,5,7,9],"labels":false,"tickSize":5,"tickWidth":1.5,"title":null}},
"detail":{"field":"b","type":"nominal"}}},
{"data":{"name":"hs"},"mark":{"type":"rule","color":"#000","strokeWidth":2},
"encoding":{"x":{"field":"k","type":"quantitative"}}}
]},
{"width":400,"height":522,
"view":{"stroke":"#555555","strokeWidth":1.5},
"layer":[
{"data":{"name":"dos"},"mark":{"type":"line","strokeWidth":1.5,"clip":true},
"encoding":{
"x":{"field":"d","type":"quantitative","scale":{"domain":[0,120],"nice":false,"zero":false},
"axis":{"values":[0,10,20,30,40,50,60,70,80,90,100,110,120],"labelExpr":"datum.value % 20 === 0 ? datum.label : ''","labelFontSize":16,"labelFlush":false,"labelOverlap":false,"labelBound":false,"tickSize":5,"tickWidth":1.5,"tickColor":"#555555","labelPadding":6,"title":"Densidad de estados","titleFontSize":19,"titlePadding":2}},
"y":{"field":"e","type":"quantitative","scale":{"domain":[-5,9],"nice":false,"zero":false},"axis":null},
"color":{"field":"s","type":"nominal","scale":{"domain":["Total","Zn","Ge","O"],"range":["#5a5a5a","#ff4b4b","#3a78e6","#2db35d"]},
"legend":{"orient":"none","legendX":971,"legendY":38,"padding":0,"title":null,"symbolType":"M-1,0H3.6","symbolSize":400,"symbolStrokeWidth":1.5,"symbolFillColor":"transparent","labelFontSize":19,"labelFontWeight":"bold","labelFont":"Liberation Sans","labelColor":"#000","rowPadding":5,"labelOffset":33}},
"order":{"field":"e","type":"quantitative"}}},
{"data":{"name":"gap"},"mark":{"type":"rule","color":"#d64ef2","strokeWidth":2},
"encoding":{"x":{"field":"x","type":"quantitative"},"x2":{"field":"x2"},"y":{"field":"y","type":"quantitative"},"y2":{"field":"y2"}}},
{"data":{"name":"gaptext"},"mark":{"type":"text","fontSize":19,"fontWeight":"bold","font":"Liberation Sans","color":"#000"},
"encoding":{"x":{"field":"x","type":"quantitative"},"y":{"field":"y","type":"quantitative"},"text":{"field":"t"}}}
]}
]
}
